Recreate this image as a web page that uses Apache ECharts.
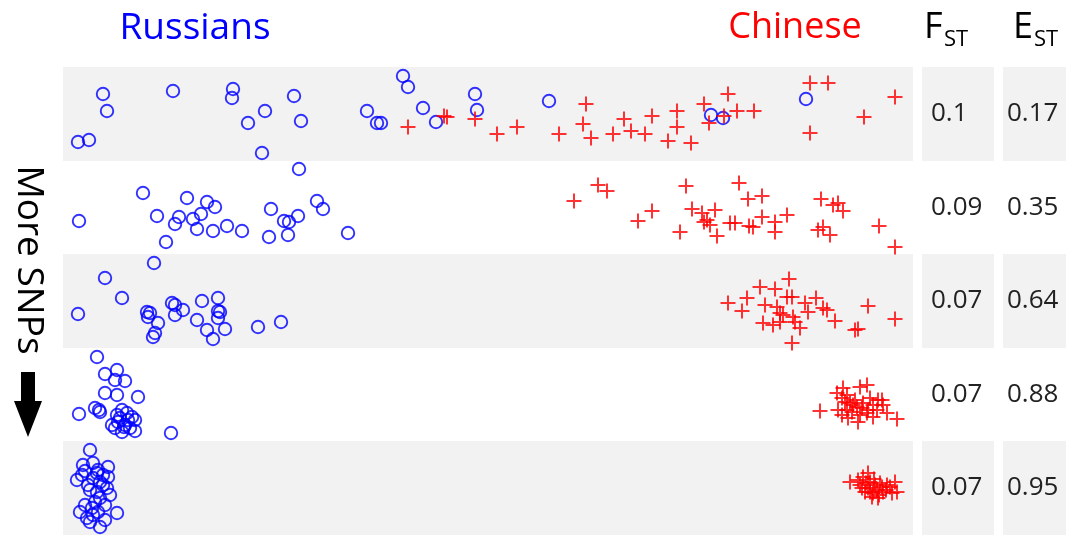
<!DOCTYPE html>
<html lang="en">
<head>
    <meta charset="UTF-8">
    <script src="https://cdn.jsdelivr.net/npm/echarts@6/dist/echarts.min.js"></script>
    <style>
        body{margin:0;background:#fff;}
    </style>
</head>
<body>

<div id="chart" style="width: 1066px; height: 535px;"></div>

<script type="text/javascript">
    // point positions inside each panel (x across 0..850, y down 0..94)
    var russians1 = [[40,27],[44,44],[15,75],[26,73],[110,24],[170,22],[169,31],[202,44],[185,56],[231,29],[238,54],[199,86],
        [304,44],[314,56],[318,56],[340,9],[345,20],[360,41],[373,55],[412,27],[414,43],[486,34],[648,48],[660,51],[743,32]];
    var chinese1 = [[345,60],[384,50],[381,49],[412,52],[434,67],[454,60],[496,67],[523,37],[520,57],[528,71],[550,67],[561,52],
        [568,64],[582,67],[589,49],[605,74],[614,44],[614,60],[628,76],[641,37],[646,56],[665,27],[661,49],[674,44],[691,44],
        [747,16],[765,16],[747,66],[801,50],[832,30]];

    var russians2 = [[236,8],[80,32],[16,60],[124,37],[144,41],[152,46],[94,55],[116,56],[112,63],[130,58],[138,53],[134,68],
        [150,70],[164,65],[179,70],[103,81],[208,48],[221,60],[226,61],[235,55],[225,74],[206,76],[254,40],[260,48],[285,72]];
    var chinese2 = [[511,40],[535,24],[544,30],[623,25],[676,22],[575,60],[589,50],[617,71],[629,48],[639,52],[644,59],[652,49],
        [647,64],[654,75],[641,61],[685,38],[699,35],[667,62],[672,62],[686,65],[690,66],[699,56],[712,61],[712,71],[724,54],
        [758,38],[770,44],[775,42],[780,50],[755,69],[760,66],[767,74],[816,65],[832,86]];

    var russians3 = [[91,9],[42,24],[59,44],[15,60],[84,58],[87,59],[85,63],[95,69],[92,79],[90,83],[109,49],[112,51],[120,56],
        [112,61],[139,47],[155,44],[155,57],[157,58],[155,64],[134,66],[144,76],[162,75],[150,85],[195,73],[218,68]];
    var chinese3 = [[665,49],[684,44],[679,57],[697,33],[712,35],[726,25],[724,43],[729,43],[702,51],[714,53],[717,59],[720,61],
        [700,69],[710,71],[717,68],[730,63],[732,68],[737,74],[729,89],[742,49],[745,58],[753,44],[760,54],[764,56],[772,67],
        [792,76],[795,75],[805,52],[832,65]];

    var russians4 = [[34,9],[42,26],[54,22],[52,32],[62,33],[42,45],[54,47],[75,49],[16,66],[32,60],[36,62],[37,64],[54,67],
        [59,62],[64,65],[69,69],[72,72],[55,74],[62,77],[67,80],[52,80],[72,83],[59,84],[108,85],
        [57,70],[65,72],[61,79],[49,77]];
    var chinese4 = [[757,63],[774,45],[780,40],[779,50],[784,47],[787,55],[775,62],[779,67],[784,62],[789,64],[794,59],[797,67],
        [795,74],[792,52],[797,39],[804,37],[800,55],[805,62],[810,57],[814,62],[815,52],[819,52],[820,57],[824,65],[834,71],
        [804,65],[810,69],[782,54],[790,57],[799,60],[785,70],[807,50]];

    var russians5 = [[27,9],[20,24],[30,22],[45,26],[22,30],[34,32],[14,39],[30,37],[40,34],[45,36],[25,44],[37,41],[44,47],
        [34,51],[32,61],[42,64],[17,71],[29,67],[24,77],[30,74],[54,72],[37,86],[27,81],
        [35,29],[40,44],[27,49],[47,54],[37,57],[22,64],[35,71],[42,79],[19,34]];
    var chinese5 = [[787,41],[800,36],[805,32],[797,44],[802,51],[809,56],[807,41],[812,44],[817,42],[820,51],[815,57],[824,44],
        [829,52],[832,41],[834,51],[805,47],[814,49],[819,46],[810,52],
        [795,39],[803,42],[811,38],[823,49],[816,54],[807,51],[827,46],[799,47]];

    var fstValues = ['0.1', '0.09', '0.07', '0.07', '0.07'];
    var estValues = ['0.17', '0.35', '0.64', '0.88', '0.95'];

    var rows = [
        [russians1, chinese1],
        [russians2, chinese2],
        [russians3, chinese3],
        [russians4, chinese4],
        [russians5, chinese5]
    ];

    function drawChart() {
        var rowTop = 67, rowH = 93.6;
        var plusPath = 'path://M6.5,0h2v6.5h6.5v2h-6.5v6.5h-2v-6.5h-6.5v-2h6.5z';
        var font = '"Open Sans", "Noto Sans", sans-serif';

        var grids = [], xAxes = [], yAxes = [], series = [], graphics = [];
        for (var i = 0; i < rows.length; i++) {
            var y0 = Math.round(rowTop + i * rowH);
            var h = Math.round(rowTop + (i + 1) * rowH) - y0;
            var gray = (i % 2 === 0);
            grids.push({
                left: 63, top: y0, width: 850, height: h,
                show: gray, backgroundColor: '#f2f2f2', borderWidth: 0
            });
            xAxes.push({type: 'value', gridIndex: i, min: 0, max: 850, show: false});
            yAxes.push({type: 'value', gridIndex: i, min: 0, max: h, inverse: true, show: false});
            series.push({
                type: 'scatter', xAxisIndex: i, yAxisIndex: i,
                data: rows[i][0],
                symbol: 'circle', symbolSize: 12.5,
                itemStyle: {color: 'rgba(0,0,0,0)', borderColor: '#0000ff', borderWidth: 1.9},
                silent: true
            });
            series.push({
                type: 'scatter', xAxisIndex: i, yAxisIndex: i,
                data: rows[i][1],
                symbol: plusPath, symbolSize: 15,
                itemStyle: {color: '#ff0000'},
                silent: true
            });

            if (gray) {
                graphics.push({type: 'rect', shape: {x: 922, y: y0, width: 72, height: h}, style: {fill: '#f2f2f2'}, z: -1});
                graphics.push({type: 'rect', shape: {x: 1003, y: y0, width: 63, height: h}, style: {fill: '#f2f2f2'}, z: -1});
            }
            graphics.push({type: 'text', x: 931, y: y0 + h / 2,
                style: {text: fstValues[i], font: '26px ' + font, fill: '#222', align: 'left', verticalAlign: 'middle'}});
            graphics.push({type: 'text', x: 1007, y: y0 + h / 2,
                style: {text: estValues[i], font: '26px ' + font, fill: '#222', align: 'left', verticalAlign: 'middle'}});
        }

        // headers
        graphics.push({type: 'text', x: 195, y: 28,
            style: {text: 'Russians', font: '37px ' + font, fill: '#0000ff', align: 'center', verticalAlign: 'middle'}});
        graphics.push({type: 'text', x: 795, y: 28,
            style: {text: 'Chinese', font: '36px ' + font, fill: '#ff0000', align: 'center', verticalAlign: 'middle'}});
        graphics.push({type: 'text', x: 924, y: 28,
            style: {text: 'F', font: '36px ' + font, fill: '#000', align: 'left', verticalAlign: 'middle'}});
        graphics.push({type: 'text', x: 944, y: 40,
            style: {text: 'ST', font: '22px ' + font, fill: '#000', align: 'left', verticalAlign: 'middle'}});
        graphics.push({type: 'text', x: 1013, y: 28,
            style: {text: 'E', font: '36px ' + font, fill: '#000', align: 'left', verticalAlign: 'middle'}});
        graphics.push({type: 'text', x: 1034, y: 40,
            style: {text: 'ST', font: '22px ' + font, fill: '#000', align: 'left', verticalAlign: 'middle'}});

        // side label and arrow
        graphics.push({type: 'text', x: 29, y: 260, rotation: -Math.PI / 2,
            style: {text: 'More SNPs', font: '37px ' + font, fill: '#000', align: 'center', verticalAlign: 'middle'}});
        graphics.push({type: 'polygon',
            shape: {points: [[21, 372], [35, 372], [35, 401], [42, 401], [28, 437], [14, 401], [21, 401]]},
            style: {fill: '#000'}});

        var chart = echarts.init(document.getElementById('chart'));
        chart.setOption({
            animation: false,
            grid: grids,
            xAxis: xAxes,
            yAxis: yAxes,
            series: series,
            graphic: graphics
        });
    }

    drawChart();
</script>
</body>
</html>
